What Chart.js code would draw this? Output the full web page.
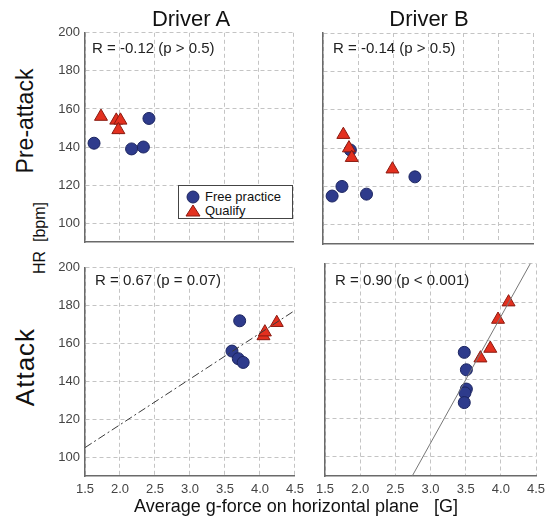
<!DOCTYPE html>
<html>
<head>
<meta charset="utf-8">
<script src="https://cdn.jsdelivr.net/npm/chart.js@4.4.0/dist/chart.umd.min.js"></script>
<style>
  body { margin: 0; background: #fff; font-family: Arial, "Liberation Sans", sans-serif; }
  #wrap { position: relative; width: 552px; height: 516px; overflow: hidden; }
  canvas { position: absolute; }
  .t { position: absolute; white-space: pre; color: #111; line-height: 1; }
  .rot { transform: translate(-50%, -50%) rotate(-90deg); }
  .ann { font-size: 15px; color: #222; }
  #legend { position: absolute; left: 178px; top: 185px; width: 115px; height: 34px;
            border: 1px solid #444; background: #fff; box-sizing: border-box; }
</style>
</head>
<body>
<div id="wrap">
  <canvas id="cAPre" width="252" height="235" style="left:50px;top:20px"></canvas>
  <canvas id="cBPre" width="232" height="235" style="left:310px;top:20px"></canvas>
  <canvas id="cAAtt" width="260" height="261" style="left:50px;top:255px"></canvas>
  <canvas id="cBAtt" width="242" height="261" style="left:310px;top:255px"></canvas>

  <div class="t" style="left:191px;top:8px;font-size:22px;transform:translateX(-50%)">Driver A</div>
  <div class="t" style="left:429px;top:8px;font-size:22px;transform:translateX(-50%)">Driver B</div>

  <div class="t rot" style="left:25px;top:121px;font-size:23px">Pre-attack</div>
  <div class="t rot" style="left:25px;top:367px;font-size:26px;letter-spacing:1px">Attack</div>
  <div class="t rot" style="left:40px;top:238px;font-size:16px">HR  [bpm]</div>

  <div class="t ann" style="left:92px;top:40px">R = -0.12 (p &gt; 0.5)</div>
  <div class="t ann" style="left:333px;top:40px">R = -0.14 (p &gt; 0.5)</div>
  <div class="t ann" style="left:95px;top:272px">R = 0.67 (p = 0.07)</div>
  <div class="t ann" style="left:335px;top:272px">R = 0.90 (p &lt; 0.001)</div>

  <div id="legend">
    <svg width="16" height="30" style="position:absolute;left:6px;top:2px">
      <circle cx="8" cy="9" r="6" fill="#2e3b8c" stroke="#1c2560" stroke-width="1"/>
      <polygon points="8,17 15,28 1,28" fill="#e3301f" stroke="#8a1a10" stroke-width="1"/>
    </svg>
    <div class="t" style="left:26px;top:4px;font-size:13px">Free practice</div>
    <div class="t" style="left:26px;top:18px;font-size:13px">Qualify</div>
  </div>

  <div class="t" style="left:296px;top:497px;font-size:18px;transform:translateX(-50%)">Average g-force on horizontal plane   [G]</div>
</div>

<script>
const xTicks = [1.5, 2.0, 2.5, 3.0, 3.5, 4.0, 4.5]
const yTicks = [100, 120, 140, 160, 180, 200]

// Driver A, pre-attack
const aPreFreeX = [1.63, 2.17, 2.34, 2.42]
const aPreFreeY = [142, 139, 140, 155]
const aPreQualX = [1.73, 1.95, 2.01, 1.98]
const aPreQualY = [156, 154, 154, 149]

// Driver B, pre-attack
const bPreFreeX = [1.63, 1.77, 2.12, 2.81, 1.89]
const bPreFreeY = [115, 120, 116, 125, 139]
const bPreQualX = [1.79, 1.87, 1.91, 2.49]
const bPreQualY = [147, 140, 135, 129]

// Driver A, attack
const aAttFreeX = [3.71, 3.60, 3.69, 3.76]
const aAttFreeY = [172, 156, 152, 150]
const aAttQualX = [4.05, 4.07, 4.24]
const aAttQualY = [164, 166, 171]

// Driver B, attack
const bAttFreeX = [3.48, 3.51, 3.51, 3.49, 3.48]
const bAttFreeY = [154, 145, 135, 133, 128]
const bAttQualX = [4.11, 3.96, 3.85, 3.71]
const bAttQualY = [180, 171, 156, 151]

// regression lines
const aFitX = [1.5, 4.5]
const aFitY = [105, 177.5]
const bFitX = [2.74, 4.42]
const bFitY = [90, 200]

const pts = (xs, ys) => xs.map((x, i) => ({ x: x, y: ys[i] }))

function panel(id, freeX, freeY, qualX, qualY, fitX, fitY, dash, showX, showY, box) {
  const datasets = []
  if (fitX) {
    datasets.push({
      data: pts(fitX, fitY),
      showLine: true,
      pointRadius: 0,
      borderColor: dash.length ? '#3a3a3a' : '#777',
      borderWidth: 1,
      borderDash: dash,
    })
  }
  datasets.push({
    label: 'Qualify',
    data: pts(qualX, qualY),
    pointStyle: 'triangle',
    pointRadius: 7.5,
    backgroundColor: '#e3301f',
    borderColor: '#8a1a10',
    borderWidth: 1,
  })
  datasets.push({
    label: 'Free practice',
    data: pts(freeX, freeY),
    pointStyle: 'circle',
    pointRadius: 6,
    backgroundColor: '#2e3b8c',
    borderColor: '#1c2560',
    borderWidth: 1,
  })

  new Chart(document.getElementById(id), {
    type: 'scatter',
    data: { datasets: datasets },
    options: {
      responsive: false,
      animation: false,
      layout: { padding: { top: box.padT, right: box.padR, left: 0, bottom: 0 } },
      plugins: { legend: { display: false }, tooltip: { enabled: false } },
      scales: {
        x: {
          type: 'linear',
          min: 1.5,
          max: 4.5,
          afterBuildTicks: (s) => { s.ticks = xTicks.map((v) => ({ value: v })) },
          afterFit: (s) => { s.height = box.xH },
          grid: { color: '#c4c4c4', lineWidth: 1, drawTicks: false },
          border: { color: '#6a6a6a', width: 1.5, dash: [4, 3] },
          ticks: {
            display: showX,
            padding: 6,
            color: '#444',
            font: { family: 'Arial, "Liberation Sans"', size: 13 },
            maxRotation: 0,
            callback: (v) => Number(v).toFixed(1),
          },
        },
        y: {
          type: 'linear',
          min: 90,
          max: 200,
          afterBuildTicks: (s) => { s.ticks = yTicks.map((v) => ({ value: v })) },
          afterFit: (s) => { s.width = box.yW },
          grid: { color: '#c4c4c4', lineWidth: 1, drawTicks: false },
          border: { color: '#6a6a6a', width: 1.5, dash: [4, 3] },
          ticks: {
            display: showY,
            padding: 5,
            color: '#444',
            font: { family: 'Arial, "Liberation Sans"', size: 13 },
          },
        },
      },
    },
  })
}

panel('cAPre', aPreFreeX, aPreFreeY, aPreQualX, aPreQualY, null, null, [], false, true,
  { yW: 35, padT: 12, padR: 5, xH: 12 })
panel('cBPre', bPreFreeX, bPreFreeY, bPreQualX, bPreQualY, null, null, [], false, false,
  { yW: 13, padT: 13, padR: 6, xH: 11 })
panel('cAAtt', aAttFreeX, aAttFreeY, aAttQualX, aAttQualY, aFitX, aFitY, [8, 3, 2, 3], true, true,
  { yW: 35, padT: 8, padR: 13, xH: 40 })
panel('cBAtt', bAttFreeX, bAttFreeY, bAttQualX, bAttQualY, bFitX, bFitY, [], true, false,
  { yW: 12, padT: 8, padR: 16, xH: 40 })
</script>
</body>
</html>
